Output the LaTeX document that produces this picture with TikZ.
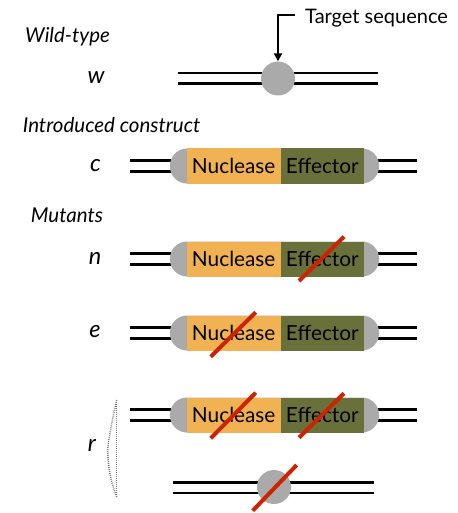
\documentclass[tikz,border=0pt]{standalone}
\usepackage{fontspec}
\setmainfont{Lato}
\usetikzlibrary{arrows.meta}
\definecolor{nucorange}{RGB}{240,178,82}
\definecolor{effolive}{RGB}{106,112,58}
\definecolor{capgray}{RGB}{170,170,170}
\definecolor{slashred}{RGB}{204,36,0}
\definecolor{dotgray}{RGB}{120,120,120}
\tikzset{
  dna/.style={draw=black, line width=2.8pt, double=white, double distance=8pt},
  body/.style={fill=capgray, draw=none, rounded corners=17pt, minimum width=209pt, minimum height=35pt, inner sep=0pt},
  nucbox/.style={fill=nucorange, draw=none, minimum width=94pt, minimum height=35pt, inner sep=0pt, font=\fontsize{20.8}{22}\selectfont},
  effbox/.style={fill=effolive, draw=none, minimum width=83.3pt, minimum height=35pt, inner sep=0pt, font=\fontsize{20.8}{22}\selectfont},
  site/.style={circle, fill=capgray, draw=none, minimum size=34pt, inner sep=0pt},
  slash/.style={draw=slashred, line width=4pt},
  lbl/.style={font=\fontsize{20.5}{22}\selectfont\itshape, inner sep=0pt},
  letter/.style={font=\fontsize{23.5}{25}\selectfont\itshape, inner sep=0pt, anchor=base},
  bracket/.style={draw=dotgray, line width=1.5pt, dash pattern=on 0.9pt off 1.1pt},
}
\begin{document}
\begin{tikzpicture}[x=1pt,y=-1pt]
\useasboundingbox (0,0) rectangle (457,513);

% labels
\node[lbl, anchor=base west] (lwt) at (25,42.7) {Wild-type};
\node[letter] (lw) at (96,83.3) {w};
\node[lbl, anchor=base west] (lic) at (22.7,132.7) {Introduced construct};
\node[letter] (lc) at (95.5,171.7) {c};
\node[lbl, anchor=base west] (lmu) at (30.7,222.7) {Mutants};
\node[letter] (ln) at (95,264.5) {n};
\node[letter] (le) at (95,337) {e};
\node[letter] (lr) at (92,451) {r};

% wild-type
\coordinate (w-l) at (178,78.5);
\coordinate (w-r) at (378,78.5);
\draw[dna] (w-l) -- (w-r);
\node[site] (w-site) at (278,78.5) {};
\node[anchor=base west, inner sep=0pt, font=\fontsize{20}{22}\selectfont] (tgt) at (305,23.3) {Target sequence};
\coordinate (tgt-a) at (295,15);
\coordinate (tgt-b) at (278,15);
\draw[line width=2.6pt, -{Triangle[length=8pt,width=8pt]}] (tgt-a) -- (tgt-b) -- (w-site.north);

% construct rows
\foreach \nm/\y in {c/166, n/259, e/333, r/415}{
  \coordinate (\nm-l) at (130,\y);
  \coordinate (\nm-r) at (417,\y);
  \draw[dna] (\nm-l) -- (\nm-r);
  \node[body] (\nm-body) at (274.5,\y) {};
  \node[nucbox] (\nm-nuc) at (233.7,\y) {Nuclease};
  \node[effbox] (\nm-eff) at (322.3,\y) {Effector};
}

% slashes
\coordinate (n-s1) at (299,281);
\coordinate (n-s2) at (344,236.7);
\draw[slash] (n-s1) -- (n-s2);
\coordinate (e-s1) at (210.7,356.7);
\coordinate (e-s2) at (255.7,312.3);
\draw[slash] (e-s1) -- (e-s2);
\coordinate (r-s1) at (210.7,438.3);
\coordinate (r-s2) at (255.7,392.7);
\draw[slash] (r-s1) -- (r-s2);
\coordinate (r-s3) at (299,437.7);
\coordinate (r-s4) at (344,393.3);
\draw[slash] (r-s3) -- (r-s4);

% mutated target
\coordinate (m-l) at (173.3,487.5);
\coordinate (m-r) at (374.3,487.5);
\draw[dna] (m-l) -- (m-r);
\node[site] (m-site) at (274,487) {};
\coordinate (m-s1) at (252.7,510.7);
\coordinate (m-s2) at (296.7,465);
\draw[slash] (m-s1) -- (m-s2);

% dotted bracket
\coordinate (br-top) at (116.7,400);
\coordinate (br-mid) at (107.7,450);
\coordinate (br-bot) at (116.7,497);
\draw[bracket] (br-top) -- (br-bot);
\draw[bracket] (br-top) .. controls (110,430) and (108,445) .. (br-mid) .. controls (108,470) and (112,485) .. (br-bot);
\end{tikzpicture}
\end{document}
